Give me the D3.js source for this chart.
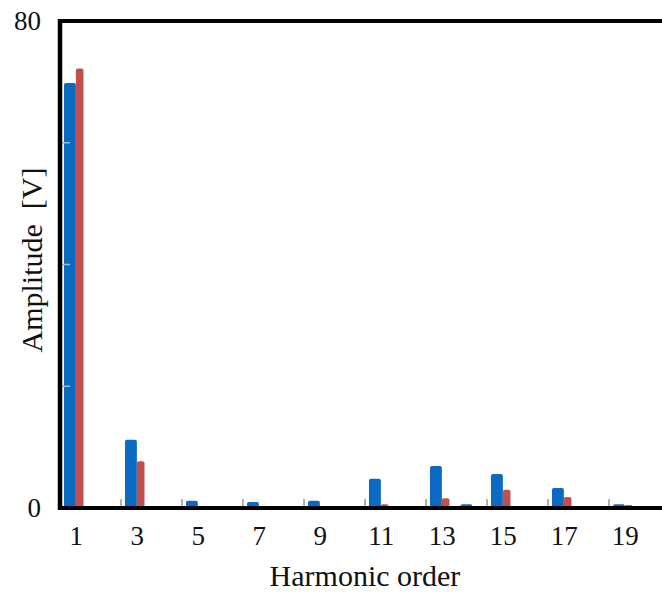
<!DOCTYPE html>
<html>
<head>
<meta charset="utf-8">
<script src="https://cdn.jsdelivr.net/npm/d3@7"></script>
<style>
  html, body { margin: 0; padding: 0; background: #fff; }
  svg { display: block; }
  text { font-family: "Liberation Serif", "Times New Roman", serif; fill: #111; }
</style>
</head>
<body>
<svg id="chart" width="662" height="592"></svg>
<script>
// Harmonic orders 1..20 (labels shown on odd orders)
const categories = d3.range(1, 21);
const tickLabels = ["1", "3", "5", "7", "9", "11", "13", "15", "17", "19"];
// Amplitudes [V] of the two measured spectra
const seriesA = [69.8, 0, 11.2, 0, 1.2, 0, 1.0, 0, 1.2, 0, 4.8, 0, 6.9, 0.6, 5.6, 0, 3.3, 0, 0.6, 0];
const seriesB = [72.2, 0, 7.7, 0, 0, 0, 0, 0, 0, 0, 0.6, 0, 1.6, 0, 3.0, 0, 1.8, 0, 0.5, 0];
const yTicks = [0, 20, 40, 60, 80];
const yLabels = [0, 80];

const svg = d3.select("#chart");
const plotLeft = 60, plotRight = 670, plotTop = 21, plotBottom = 508;

const x = d3.scaleBand().domain(categories).range([plotLeft, plotRight]).padding(0);
const y = d3.scaleLinear().domain([0, 80]).range([plotBottom, plotTop]);
const bw = x.bandwidth();

const colA = "#0b6bc2", colB = "#c0504d";

// bars with slightly rounded tops
function barPath(x0, w, v) {
  const y0 = y(0), y1 = y(v);
  const h = y0 - y1;
  if (h <= 0) return "";
  const r = Math.min(2, h / 2, w / 2);
  return `M${x0},${y0}V${y1 + r}Q${x0},${y1} ${x0 + r},${y1}H${x0 + w - r}Q${x0 + w},${y1} ${x0 + w},${y1 + r}V${y0}Z`;
}

const g = svg.append("g");
g.selectAll("path.a").data(categories).join("path")
  .attr("class", "a")
  .attr("fill", colA)
  .attr("d", (c, i) => barPath(x(c) + bw * 0.13, bw * 0.39, seriesA[i]));
g.selectAll("path.b").data(categories).join("path")
  .attr("class", "b")
  .attr("fill", colB)
  .attr("d", (c, i) => barPath(x(c) + bw * 0.52, bw * 0.25, seriesB[i]));

// inner y ticks
svg.append("g").selectAll("line").data(yTicks.filter(t => t > 0 && t < 80)).join("line")
  .attr("x1", plotLeft + 2).attr("x2", plotLeft + 10)
  .attr("y1", d => y(d)).attr("y2", d => y(d))
  .attr("stroke", "#a9b7c6").attr("stroke-width", 1.5);

// x ticks every two orders
const xTickCats = categories.filter(c => c % 2 === 1 && c > 1);
svg.append("g").selectAll("line").data(xTickCats).join("line")
  .attr("x1", c => x(c)).attr("x2", c => x(c))
  .attr("y1", plotBottom - 9).attr("y2", plotBottom)
  .attr("stroke", "#999").attr("stroke-width", 1.5);

// frame: left, top and bottom rules
svg.append("line").attr("x1", plotLeft).attr("x2", plotLeft).attr("y1", plotTop - 2).attr("y2", plotBottom + 2)
  .attr("stroke", "#000").attr("stroke-width", 4.5);
svg.append("line").attr("x1", plotLeft - 2).attr("x2", plotRight).attr("y1", plotTop).attr("y2", plotTop)
  .attr("stroke", "#000").attr("stroke-width", 4);
svg.append("line").attr("x1", plotLeft - 2).attr("x2", plotRight).attr("y1", plotBottom).attr("y2", plotBottom)
  .attr("stroke", "#000").attr("stroke-width", 4);

// y labels
svg.append("g").selectAll("text").data(yLabels).join("text")
  .attr("x", 41).attr("y", d => y(d) + 9)
  .attr("text-anchor", "end")
  .attr("font-size", 27)
  .text(d => d);

// x labels
svg.append("g").selectAll("text").data(tickLabels).join("text")
  .attr("x", d => x(+d) + bw / 2 + 1)
  .attr("y", 545)
  .attr("text-anchor", "middle")
  .attr("font-size", 27)
  .text(d => d);

// axis titles
svg.append("text")
  .attr("x", 365).attr("y", 586)
  .attr("text-anchor", "middle")
  .attr("font-size", 30)
  .text("Harmonic order");
svg.append("text")
  .attr("transform", "translate(42,260) rotate(-90)")
  .attr("text-anchor", "middle")
  .attr("font-size", 30)
  .attr("xml:space", "preserve")
  .style("white-space", "pre")
  .text("Amplitude  [V]");
</script>
</body>
</html>
